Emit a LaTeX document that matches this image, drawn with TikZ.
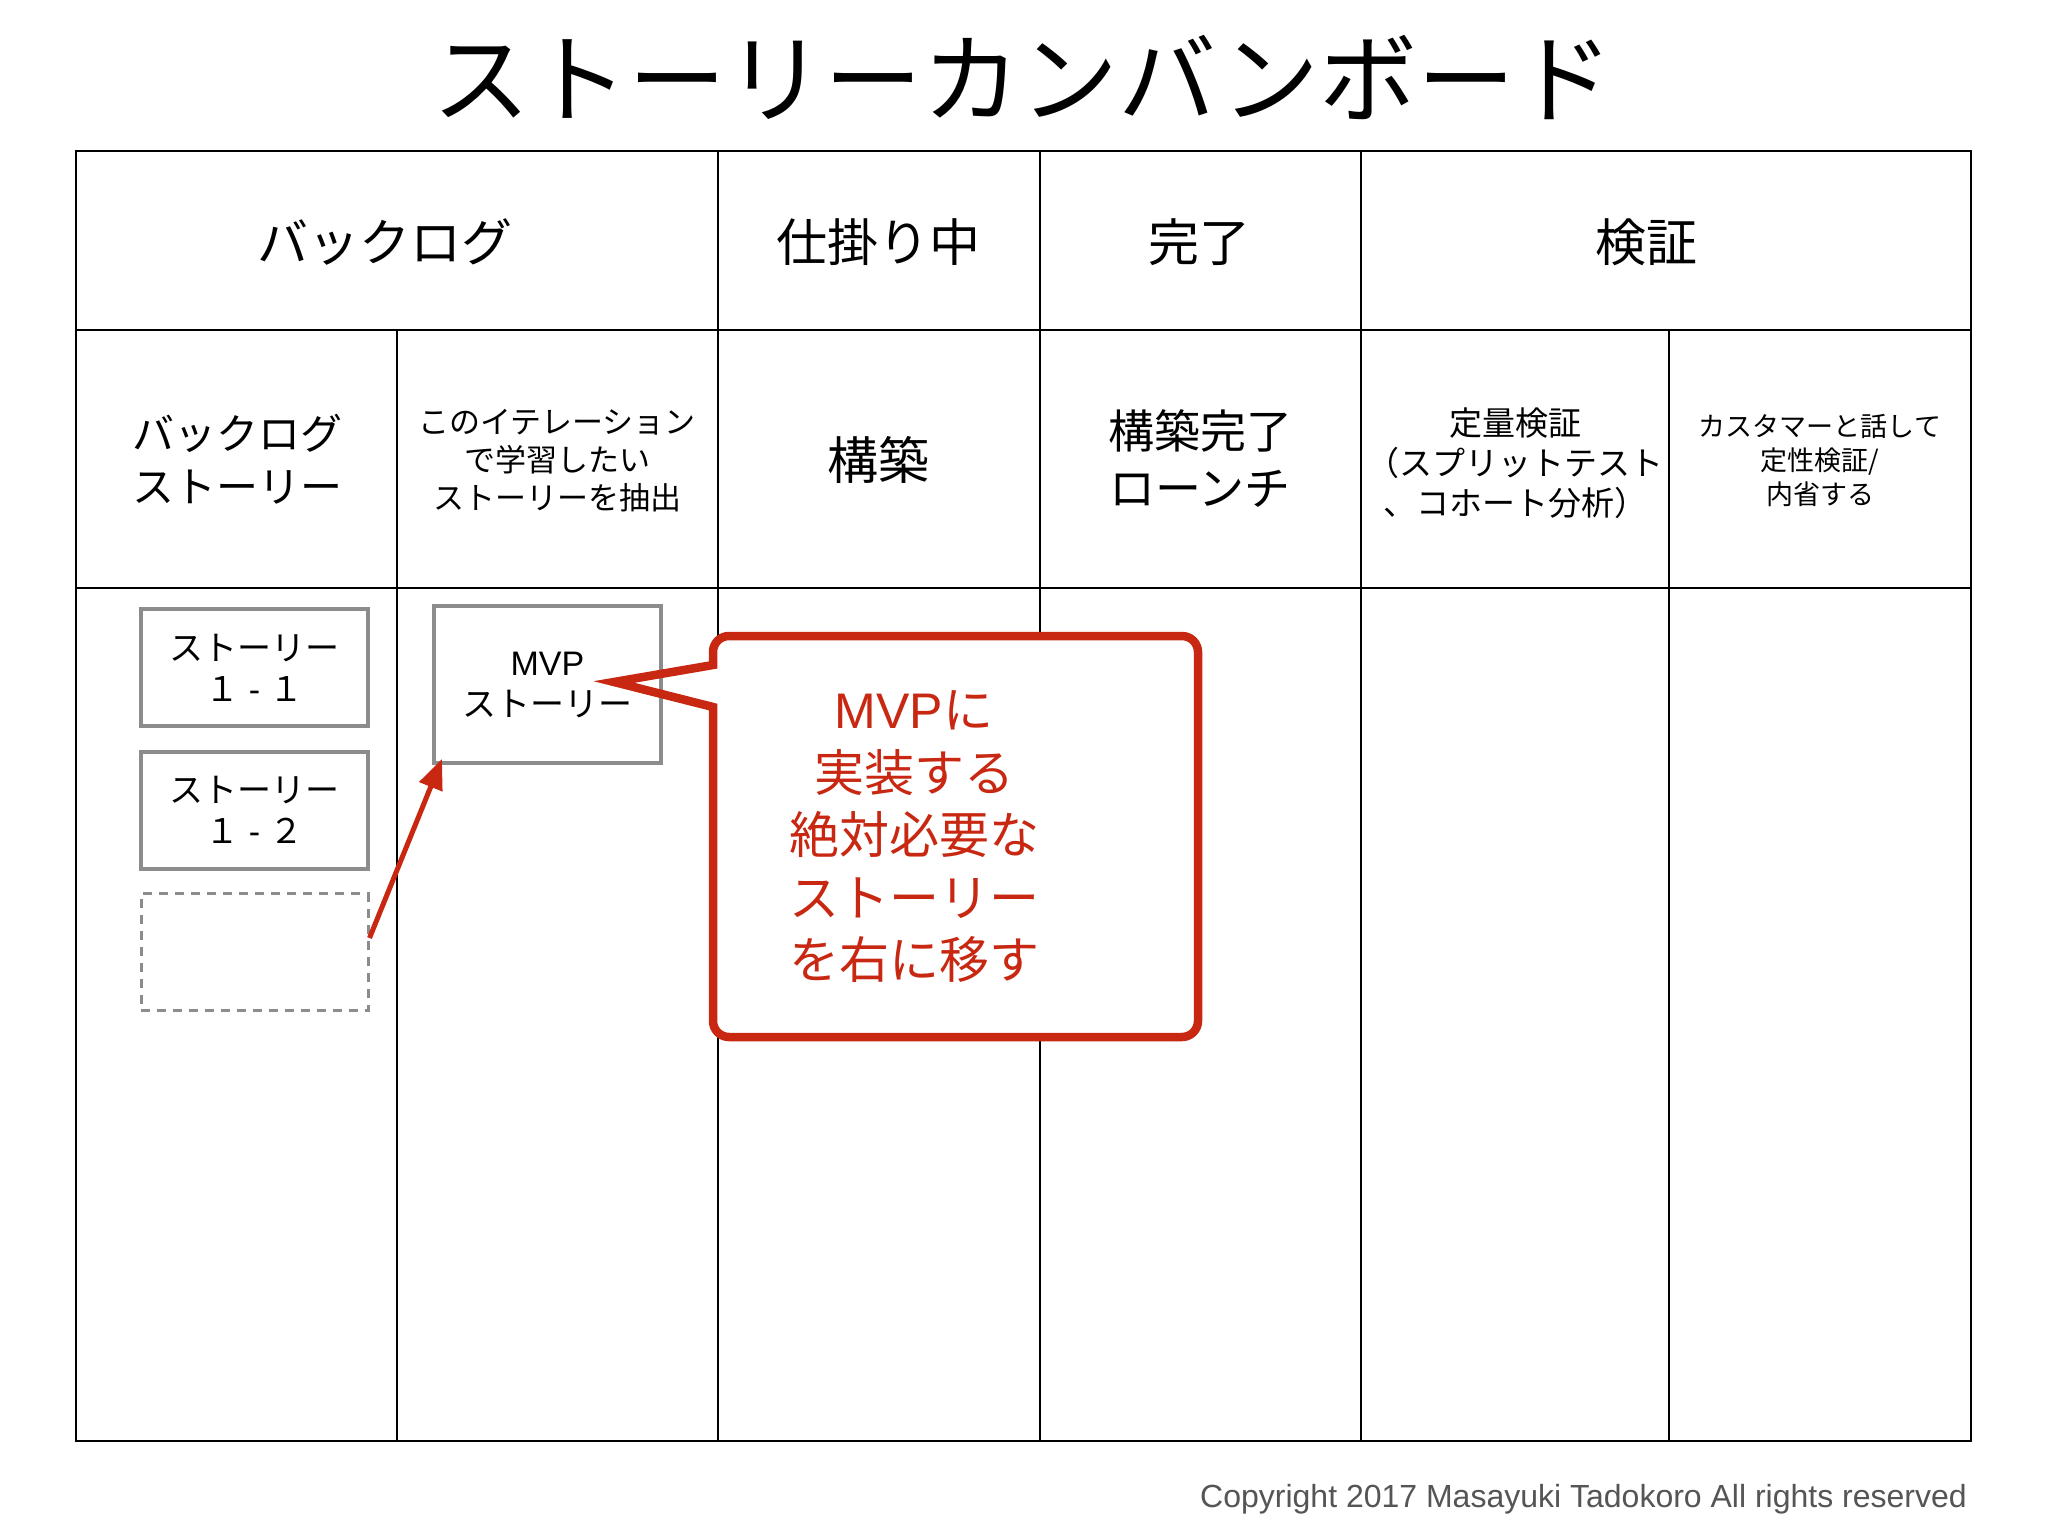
\documentclass[tikz,border=0pt]{standalone}
\usepackage{fontspec}
\setmainfont{Noto Sans CJK JP}
\newfontfamily\lat{Liberation Sans}
\usetikzlibrary{arrows.meta,positioning}
\definecolor{cred}{RGB}{200,40,18}
\definecolor{cgray}{RGB}{140,140,140}
\definecolor{copygray}{RGB}{85,85,85}
\newcommand{\fs}[2]{\fontsize{#1pt}{#2pt}\selectfont}
\newcommand{\sdash}{{\lat\ -\ }}
\tikzset{
  tbl/.style={line width=2pt, black},
  lbl/.style={align=center, inner sep=0pt, text=black},
  card/.style={draw=cgray, line width=4pt, minimum width=227pt, minimum height=117pt, align=center, inner sep=0pt, font=\fs{34}{41}},
  dashcard/.style={draw=cgray, line width=3pt, dash pattern=on 9pt off 7pt, minimum width=227pt, minimum height=117pt},
  callout/.style={line width=8.5pt, draw=cred, line join=miter},
  redarrow/.style={line width=5pt, draw=cred, -{Triangle[length=30pt,width=24pt]}},
}
\begin{document}
\begin{tikzpicture}[x=1pt,y=-1pt]
\useasboundingbox (0,0) rectangle (2048,1536);
\fill[white] (0,0) rectangle (2048,1536);

% title
\node[lbl, font=\fs{98}{100}] (title) at (1023,77) {ストーリーカンバンボード};

% table
\draw[tbl] (76,151.5) rectangle (1971,1441);
\draw[tbl] (76,330) -- (1971,330);
\draw[tbl] (76,588) -- (1971,588);
\draw[tbl] (397,330) -- (397,1441);
\draw[tbl] (718,151.5) -- (718,1441);
\draw[tbl] (1040,151.5) -- (1040,1441);
\draw[tbl] (1361,151.5) -- (1361,1441);
\draw[tbl] (1669,330) -- (1669,1441);

% header row 1
\node[lbl, font=\fs{51}{60}] (h1) at (385,242) {バックログ};
\node[lbl, font=\fs{51}{60}] (h2) at (878,242) {仕掛り中};
\node[lbl, font=\fs{51}{60}] (h3) at (1199,242) {完了};
\node[lbl, font=\fs{51}{60}] (h4) at (1646,242) {検証};

% header row 2
\node[lbl, font=\fs{42}{53}] (r1) at (237,459) {バックログ\\ストーリー};
\node[lbl, font=\fs{31}{38}] (r2) at (557,461) {このイテレーション\\で学習したい\\ストーリーを抽出};
\node[lbl, font=\fs{51}{60}] (r3) at (878,460) {構築};
\node[lbl, font=\fs{46}{57}] (r4) at (1200,459) {構築完了\\ローンチ};
\node[lbl, font=\fs{33}{40}] (r5) at (1515,463) {定量検証\\（スプリットテスト\\、コホート分析）};
\node[lbl, font=\fs{27}{34}] (r6) at (1820,460) {カスタマーと話して\\定性検証/\\内省する};

% callout fill
\fill[white] (713,707) -- (713,1037) -- (1198,1037) -- (1198,636) -- (713,636) -- (713,665) -- (614,682) -- cycle;

% cards
\node[card] (s11) at (254.5,667.5) {ストーリー\\１\sdash １};
\node[card] (s12) at (254.5,810) {ストーリー\\１\sdash ２};
\node[dashcard] (dash) at (254.5,952) {};
\node[card, minimum height=157pt] (mvp) at (547.5,684.5) {{\lat MVP}\\ストーリー};

% callout outline
\draw[callout] (713,707) [rounded corners=16pt] -- (713,1037) -- (1198,1037) -- (1198,636) -- (713,636) [sharp corners] -- (713,665) -- (614,682) -- cycle;
\node[lbl, text=cred, font=\fs{50}{62.5}] (ctext) at (914,837) {{\lat MVP}に\\実装する\\絶対必要な\\ストーリー\\を右に移す};

% arrow
\draw[redarrow] ([yshift=14pt]dash.east) -- ([xshift=10pt,yshift=6pt]mvp.south west);

% copyright
\node[anchor=east, inner sep=0pt, text=copygray, font=\lat\fs{32}{36}] (copy) at (1967,1499) {Copyright 2017 Masayuki Tadokoro All rights reserved};
\end{tikzpicture}
\end{document}
